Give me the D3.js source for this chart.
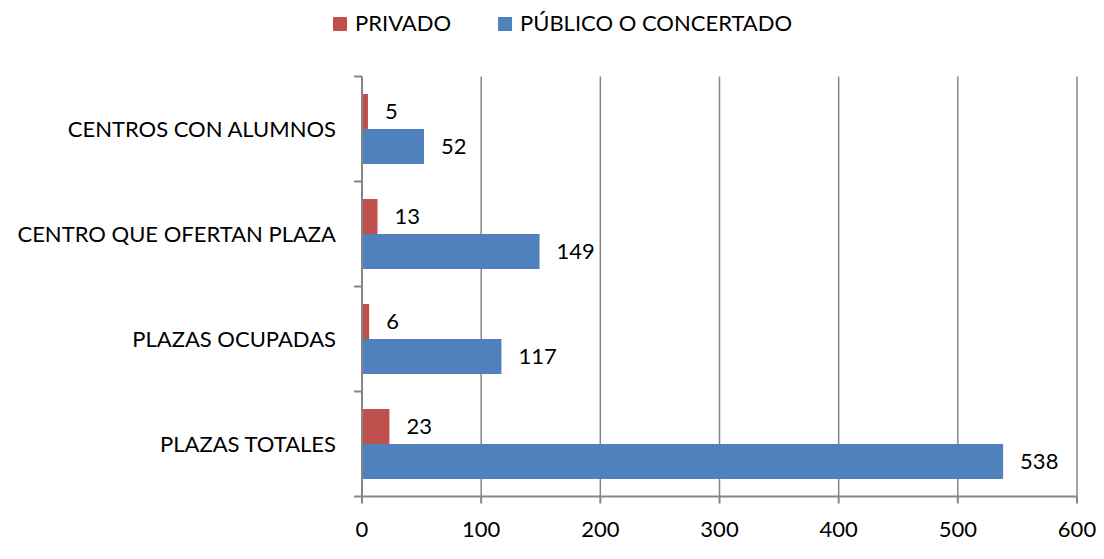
<!DOCTYPE html>
<html>
<head>
<meta charset="utf-8">
<script src="https://cdn.jsdelivr.net/npm/d3@7"></script>
<style>
  html, body { margin: 0; padding: 0; background: #fff; }
  svg { display: block; }
  text { font-family: Lato, "Open Sans", sans-serif; fill: #000; }
</style>
</head>
<body>
<svg id="chart" width="1104" height="559"></svg>
<script>
const categories = ["CENTROS CON ALUMNOS", "CENTRO QUE OFERTAN PLAZA", "PLAZAS OCUPADAS", "PLAZAS TOTALES"];
const seriesNames = ["PRIVADO", "PÚBLICO O CONCERTADO"];
const privado = [5, 13, 6, 23];
const publico = [52, 149, 117, 538];
const xTicks = [0, 100, 200, 300, 400, 500, 600];
const colors = ["#C0504D", "#4F81BD"];

(function () {
const svg = d3.select("#chart");
const pLeft = 362, pRight = 1077, pTop = 76.5, pBottom = 496.5;
const fs = 22;

const x = d3.scaleLinear().domain([0, 600]).range([pLeft, pRight]);
const y = d3.scaleBand().domain(categories).range([pTop, pBottom]).paddingInner(1/3).paddingOuter(1/6);
const sub = d3.scaleBand().domain(seriesNames).range([0, y.bandwidth()]);

const gridColor = "#868686";

// gridlines
svg.append("g").selectAll("line").data(xTicks.slice(1)).join("line")
  .attr("x1", d => x(d)).attr("x2", d => x(d))
  .attr("y1", pTop).attr("y2", pBottom)
  .attr("stroke", gridColor).attr("stroke-width", 1.5);

// bars
const data = categories.map((c, i) => ({cat: c, vals: [privado[i], publico[i]]}));
const groups = svg.append("g").selectAll("g").data(data).join("g")
  .attr("transform", d => `translate(0,${y(d.cat)})`);
groups.selectAll("rect").data(d => d.vals.map((v, j) => ({v, s: seriesNames[j], j}))).join("rect")
  .attr("x", x(0))
  .attr("y", d => sub(d.s))
  .attr("width", d => x(d.v) - x(0))
  .attr("height", sub.bandwidth())
  .attr("fill", d => colors[d.j]);
groups.selectAll("text").data(d => d.vals.map((v, j) => ({v, s: seriesNames[j], j}))).join("text")
  .attr("x", d => x(d.v) + 17)
  .attr("y", d => sub(d.s) + sub.bandwidth() / 2)
  .attr("dy", "0.35em")
  .attr("font-size", fs)
  .text(d => d.v);

// y axis
const yAxis = svg.append("g");
yAxis.append("line").attr("x1", pLeft).attr("x2", pLeft).attr("y1", pTop).attr("y2", pBottom)
  .attr("stroke", gridColor).attr("stroke-width", 2);
const boundaries = categories.map(c => y(c) - y.step() * y.paddingOuter()).concat([pBottom]);
yAxis.selectAll("line.tk").data(boundaries).join("line").attr("class", "tk")
  .attr("x1", pLeft - 8).attr("x2", pLeft).attr("y1", d => d).attr("y2", d => d)
  .attr("stroke", gridColor).attr("stroke-width", 2);
yAxis.selectAll("text").data(categories).join("text")
  .attr("x", 336).attr("y", d => y(d) + y.bandwidth() / 2)
  .attr("dy", "0.35em").attr("text-anchor", "end").attr("font-size", fs)
  .text(d => d);

// x axis
const xAxis = svg.append("g");
xAxis.append("line").attr("x1", pLeft).attr("x2", pRight).attr("y1", pBottom).attr("y2", pBottom)
  .attr("stroke", gridColor).attr("stroke-width", 2);
xAxis.selectAll("line.tk").data(xTicks).join("line").attr("class", "tk")
  .attr("x1", d => x(d)).attr("x2", d => x(d)).attr("y1", pBottom).attr("y2", pBottom + 7)
  .attr("stroke", gridColor).attr("stroke-width", 2);
xAxis.selectAll("text").data(xTicks).join("text")
  .attr("x", d => x(d)).attr("y", 537).attr("text-anchor", "middle").attr("font-size", fs)
  .text(d => d);

// legend
const legX = [333, 498];
const leg = svg.append("g").selectAll("g").data(seriesNames).join("g")
  .attr("transform", (d, i) => `translate(${legX[i]},17)`);
leg.append("rect").attr("width", 14).attr("height", 14).attr("fill", (d, i) => colors[i]);
leg.append("text").attr("x", 22).attr("y", 14).attr("font-size", fs).text(d => d);
})();
</script>
</body>
</html>
